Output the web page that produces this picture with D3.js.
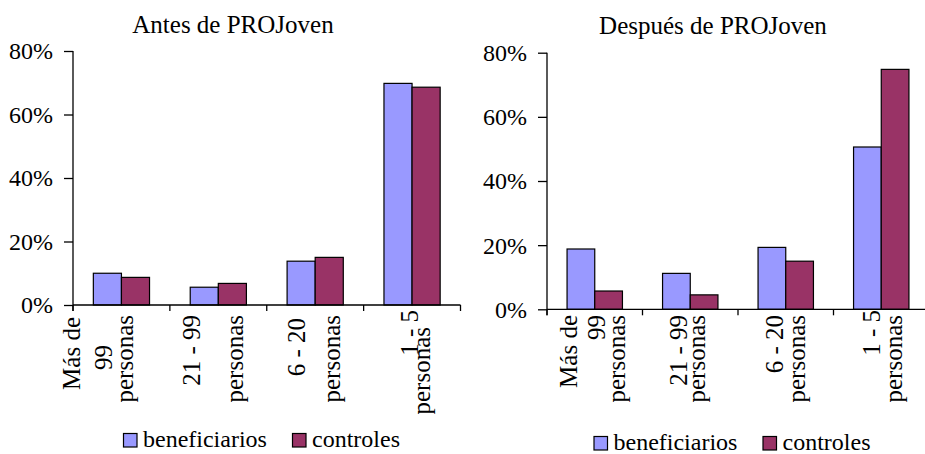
<!DOCTYPE html>
<html>
<head>
<meta charset="utf-8">
<script src="https://cdn.jsdelivr.net/npm/d3@7"></script>
<style>
  html, body { margin: 0; padding: 0; background: #fff; }
  svg { display: block; }
  text { font-family: "Liberation Serif", "Times New Roman", serif; fill: #000; }
</style>
</head>
<body>
<svg id="chart" width="925" height="454"></svg>
<script>
// ---- data ----
const categories = ["Más de 99 personas", "21 - 99 personas", "6 - 20 personas", "1 - 5 personas"];
const categoryLines = [["Más de", "99", "personas"], ["21 - 99", "personas"], ["6 - 20", "personas"], ["1 - 5", "personas"]];
const seriesNames = ["beneficiarios", "controles"];
const antesBeneficiarios = [10.0, 5.6, 13.8, 69.8];
const antesControles = [8.7, 6.8, 15.0, 68.6];
const despuesBeneficiarios = [18.8, 11.2, 19.3, 50.6];
const despuesControles = [5.7, 4.5, 15.0, 74.8];
const yTicks = [0, 20, 40, 60, 80];
const titles = ["Antes de PROJoven", "Después de PROJoven"];

const colors = ["#9999FF", "#993366"];

// ---- layout (positions only) ----
const panels = [
  {
    title: titles[0], values: [antesBeneficiarios, antesControles],
    x0: 73, x1: 460.5, y0: 305, yTop: 51, titleX: 233, titleY: 33,
    lineOff: [[-41, -9, 12], [-18, 25], [-10, 25], [6, 18]],
    lineTop: [[317, 345, 315], [315, 315], [318, 315], [310, 327]],
    legX: 123.5, legY: 433.5, legGap: 169
  },
  {
    title: titles[1], values: [despuesBeneficiarios, despuesControles],
    x0: 547, x1: 929, y0: 309.3, yTop: 52.7, titleX: 713, titleY: 34,
    lineOff: [[-18, 10, 30], [-3, 15], [-2.5, 19.5], [-1, 21]],
    lineTop: [[315, 315, 315], [315, 315], [315, 315], [310, 315]],
    legX: 594, legY: 436.5, legGap: 169
  }
];

const svg = d3.select("#chart");

panels.forEach(p => {
  const g = svg.append("g");
  const x = d3.scaleBand().domain(categories).range([p.x0, p.x1]).paddingInner(0.42).paddingOuter(0.21);
  const xs = d3.scaleBand().domain(seriesNames).range([0, x.bandwidth()]);
  const y = d3.scaleLinear().domain([0, 80]).range([p.y0, p.yTop]);

  // bars
  seriesNames.forEach((s, si) => {
    g.selectAll(null).data(categories).enter().append("rect")
      .attr("x", d => x(d) + xs(s))
      .attr("y", (d, i) => y(p.values[si][i]))
      .attr("width", xs.bandwidth())
      .attr("height", (d, i) => y(0) - y(p.values[si][i]))
      .attr("fill", colors[si])
      .attr("stroke", "#000")
      .attr("stroke-width", 1.2);
  });

  // y axis
  const yAxis = d3.axisLeft(y).tickValues(yTicks).tickFormat(d => d + "%").tickSize(9).tickPadding(11);
  const ya = g.append("g").attr("transform", `translate(${p.x0},0)`).call(yAxis);
  ya.select(".domain").remove();
  ya.selectAll(".tick line").attr("stroke", "#000").attr("stroke-width", 1.3);
  ya.selectAll(".tick text").attr("font-size", 24).attr("font-family", "Liberation Serif").attr("dy", "0.33em");
  g.append("line").attr("x1", p.x0).attr("x2", p.x0).attr("y1", p.yTop).attr("y2", p.y0 + 6)
    .attr("stroke", "#000").attr("stroke-width", 1.3);

  // x axis
  g.append("line").attr("x1", p.x0).attr("x2", p.x1).attr("y1", p.y0).attr("y2", p.y0)
    .attr("stroke", "#000").attr("stroke-width", 1.3);
  const bounds = d3.range(categories.length + 1).map(i => p.x0 + i * x.step());
  g.selectAll(null).data(bounds).enter().append("line")
    .attr("x1", d => d).attr("x2", d => d).attr("y1", p.y0).attr("y2", p.y0 + 6)
    .attr("stroke", "#000").attr("stroke-width", 1.3);

  // category labels (rotated)
  categories.forEach((c, ci) => {
    const cx = x(c) + x.bandwidth() / 2;
    categoryLines[ci].forEach((line, li) => {
      g.append("text")
        .attr("transform", `translate(${cx + p.lineOff[ci][li]},${p.lineTop[ci][li]}) rotate(-90)`)
        .attr("text-anchor", "end")
        .attr("font-size", 25)
        .text(line);
    });
  });

  // title
  g.append("text").attr("x", p.titleX).attr("y", p.titleY).attr("text-anchor", "middle")
    .attr("font-size", 25).text(p.title);

  // legend
  seriesNames.forEach((s, si) => {
    const lx = p.legX + si * p.legGap;
    g.append("rect").attr("x", lx).attr("y", p.legY).attr("width", 13.5).attr("height", 13.5)
      .attr("fill", colors[si]).attr("stroke", "#000").attr("stroke-width", 1.2);
    g.append("text").attr("x", lx + 19.5).attr("y", p.legY + 13.8).attr("font-size", 24).text(s);
  });
});
</script>
</body>
</html>
